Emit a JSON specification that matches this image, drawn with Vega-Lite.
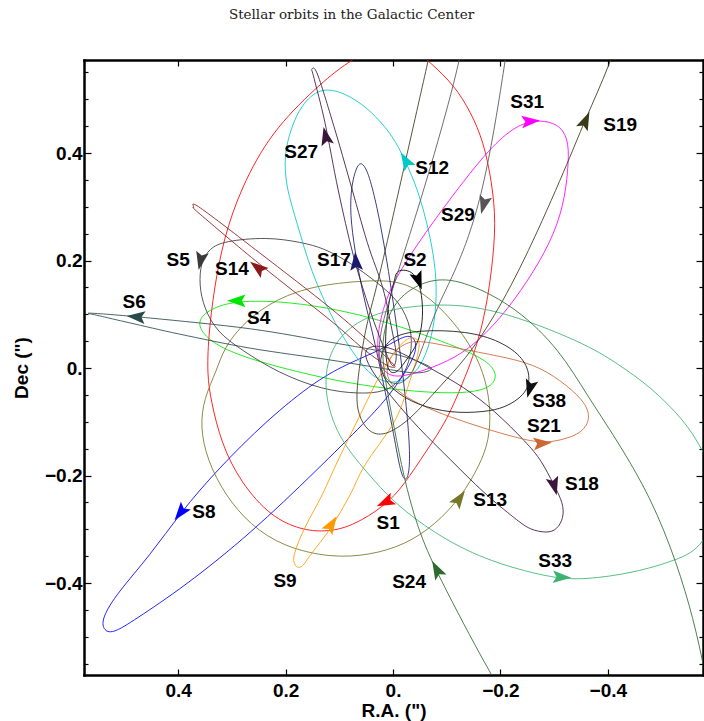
{
  "$schema": "https://vega.github.io/schema/vega-lite/v6.json",
  "width": 619,
  "height": 615,
  "autosize": {"type": "none"},
  "padding": {"left": 84, "top": 60, "right": 1, "bottom": 46},
  "background": "white",
  "title": {"text": "Stellar orbits in the Galactic Center", "font": "DejaVu Serif", "fontSize": 13.5, "fontWeight": "normal", "color": "#222222", "anchor": "middle", "frame": "group", "dx": -42, "offset": 27, "baseline": "alphabetic"},
  "config": {
    "view": {"stroke": null},
    "axis": {"domainColor": "black", "domainWidth": 2.5, "domainCap": "square", "tickColor": "black", "tickWidth": 1.2, "labelFont": "Liberation Sans", "labelFontWeight": "bold", "labelFontSize": 19, "labelColor": "black", "titleFont": "Liberation Sans", "titleFontWeight": "bold", "titleFontSize": 19, "titleColor": "black", "grid": false, "zindex": 1, "labelOverlap": false, "labelBound": false, "labelFlush": false}
  },
  "datasets": {
    "closed": [
      {"star":"S1","i":0,"ra":0.006,"dec":0.614},{"star":"S1","i":1,"ra":0.086,"dec":0.569},{"star":"S1","i":2,"ra":0.142,"dec":0.523},{"star":"S1","i":3,"ra":0.227,"dec":0.439},{"star":"S1","i":4,"ra":0.283,"dec":0.335},{"star":"S1","i":5,"ra":0.315,"dec":0.242},{"star":"S1","i":6,"ra":0.333,"dec":0.149},{"star":"S1","i":7,"ra":0.344,"dec":0.056},{"star":"S1","i":8,"ra":0.346,"dec":-0.013},{"star":"S1","i":9,"ra":0.339,"dec":-0.060},{"star":"S1","i":10,"ra":0.320,"dec":-0.140},{"star":"S1","i":11,"ra":0.283,"dec":-0.214},{"star":"S1","i":12,"ra":0.227,"dec":-0.277},{"star":"S1","i":13,"ra":0.171,"dec":-0.301},{"star":"S1","i":14,"ra":0.128,"dec":-0.305},{"star":"S1","i":15,"ra":0.078,"dec":-0.296},{"star":"S1","i":16,"ra":0.013,"dec":-0.255},{"star":"S1","i":17,"ra":-0.020,"dec":-0.218},{"star":"S1","i":18,"ra":-0.063,"dec":-0.153},{"star":"S1","i":19,"ra":-0.101,"dec":-0.097},{"star":"S1","i":20,"ra":-0.132,"dec":-0.022},{"star":"S1","i":21,"ra":-0.147,"dec":0.015},{"star":"S1","i":22,"ra":-0.169,"dec":0.086},{"star":"S1","i":23,"ra":-0.184,"dec":0.179},{"star":"S1","i":24,"ra":-0.192,"dec":0.272},{"star":"S1","i":25,"ra":-0.184,"dec":0.346},{"star":"S1","i":26,"ra":-0.169,"dec":0.420},{"star":"S1","i":27,"ra":-0.145,"dec":0.476},{"star":"S1","i":28,"ra":-0.114,"dec":0.526},{"star":"S1","i":29,"ra":-0.071,"dec":0.567},{"star":"S1","i":30,"ra":-0.035,"dec":0.597},
      {"star":"S2","i":0,"ra":-0.019,"dec":0.182},{"star":"S2","i":1,"ra":-0.035,"dec":0.177},{"star":"S2","i":2,"ra":-0.047,"dec":0.160},{"star":"S2","i":3,"ra":-0.054,"dec":0.126},{"star":"S2","i":4,"ra":-0.054,"dec":0.086},{"star":"S2","i":5,"ra":-0.045,"dec":0.047},{"star":"S2","i":6,"ra":-0.022,"dec":0.011},{"star":"S2","i":7,"ra":-0.006,"dec":-0.007},{"star":"S2","i":8,"ra":0.007,"dec":-0.004},{"star":"S2","i":9,"ra":0.013,"dec":0.024},{"star":"S2","i":10,"ra":0.013,"dec":0.071},{"star":"S2","i":11,"ra":0.007,"dec":0.123},{"star":"S2","i":12,"ra":-0.002,"dec":0.160},{"star":"S2","i":13,"ra":-0.007,"dec":0.177},
      {"star":"S4","i":0,"ra":0.281,"dec":0.126},{"star":"S4","i":1,"ra":0.192,"dec":0.123},{"star":"S4","i":2,"ra":0.099,"dec":0.108},{"star":"S4","i":3,"ra":0.024,"dec":0.089},{"star":"S4","i":4,"ra":-0.050,"dec":0.065},{"star":"S4","i":5,"ra":-0.125,"dec":0.037},{"star":"S4","i":6,"ra":-0.181,"dec":0.011},{"star":"S4","i":7,"ra":-0.196,"dec":-0.017},{"star":"S4","i":8,"ra":-0.177,"dec":-0.041},{"star":"S4","i":9,"ra":-0.115,"dec":-0.048},{"star":"S4","i":10,"ra":-0.032,"dec":-0.043},{"star":"S4","i":11,"ra":0.061,"dec":-0.032},{"star":"S4","i":12,"ra":0.155,"dec":-0.013},{"star":"S4","i":13,"ra":0.248,"dec":0.011},{"star":"S4","i":14,"ra":0.322,"dec":0.037},{"star":"S4","i":15,"ra":0.359,"dec":0.067},{"star":"S4","i":16,"ra":0.363,"dec":0.093},{"star":"S4","i":17,"ra":0.331,"dec":0.115},
      {"star":"S5","i":0,"ra":0.235,"dec":0.244},{"star":"S5","i":1,"ra":0.171,"dec":0.234},{"star":"S5","i":2,"ra":0.128,"dec":0.223},{"star":"S5","i":3,"ra":0.078,"dec":0.195},{"star":"S5","i":4,"ra":0.030,"dec":0.160},{"star":"S5","i":5,"ra":-0.013,"dec":0.123},{"star":"S5","i":6,"ra":-0.035,"dec":0.074},{"star":"S5","i":7,"ra":-0.035,"dec":0.024},{"star":"S5","i":8,"ra":-0.017,"dec":-0.022},{"star":"S5","i":9,"ra":0.015,"dec":-0.045},{"star":"S5","i":10,"ra":0.063,"dec":-0.048},{"star":"S5","i":11,"ra":0.130,"dec":-0.041},{"star":"S5","i":12,"ra":0.214,"dec":-0.009},{"star":"S5","i":13,"ra":0.281,"dec":0.033},{"star":"S5","i":14,"ra":0.328,"dec":0.067},{"star":"S5","i":15,"ra":0.352,"dec":0.112},{"star":"S5","i":16,"ra":0.361,"dec":0.154},{"star":"S5","i":17,"ra":0.358,"dec":0.197},{"star":"S5","i":18,"ra":0.341,"dec":0.223},{"star":"S5","i":19,"ra":0.315,"dec":0.236},
      {"star":"S6","i":0,"ra":0.562,"dec":0.102},{"star":"S6","i":1,"ra":0.452,"dec":0.093},{"star":"S6","i":2,"ra":0.266,"dec":0.073},{"star":"S6","i":3,"ra":0.117,"dec":0.048},{"star":"S6","i":4,"ra":0.006,"dec":0.028},{"star":"S6","i":5,"ra":-0.050,"dec":0.011},{"star":"S6","i":6,"ra":-0.071,"dec":-0.002},{"star":"S6","i":7,"ra":-0.041,"dec":-0.009},{"star":"S6","i":8,"ra":0.024,"dec":0.000},{"star":"S6","i":9,"ra":0.117,"dec":0.015},{"star":"S6","i":10,"ra":0.266,"dec":0.037},{"star":"S6","i":11,"ra":0.397,"dec":0.063},{"star":"S6","i":12,"ra":0.490,"dec":0.084},{"star":"S6","i":13,"ra":0.546,"dec":0.097},
      {"star":"S8","i":0,"ra":-0.037,"dec":0.063},{"star":"S8","i":1,"ra":-0.013,"dec":0.056},{"star":"S8","i":2,"ra":0.024,"dec":0.033},{"star":"S8","i":3,"ra":0.078,"dec":0.011},{"star":"S8","i":4,"ra":0.142,"dec":-0.022},{"star":"S8","i":5,"ra":0.235,"dec":-0.097},{"star":"S8","i":6,"ra":0.328,"dec":-0.190},{"star":"S8","i":7,"ra":0.395,"dec":-0.268},{"star":"S8","i":8,"ra":0.452,"dec":-0.348},{"star":"S8","i":9,"ra":0.514,"dec":-0.419},{"star":"S8","i":10,"ra":0.542,"dec":-0.465},{"star":"S8","i":11,"ra":0.540,"dec":-0.487},{"star":"S8","i":12,"ra":0.523,"dec":-0.495},{"star":"S8","i":13,"ra":0.482,"dec":-0.469},{"star":"S8","i":14,"ra":0.389,"dec":-0.407},{"star":"S8","i":15,"ra":0.264,"dec":-0.307},{"star":"S8","i":16,"ra":0.142,"dec":-0.190},{"star":"S8","i":17,"ra":0.048,"dec":-0.097},{"star":"S8","i":18,"ra":0.006,"dec":-0.050},{"star":"S8","i":19,"ra":-0.026,"dec":-0.004},{"star":"S8","i":20,"ra":-0.047,"dec":0.037},
      {"star":"S9","i":0,"ra":0.181,"dec":-0.368},{"star":"S9","i":1,"ra":0.184,"dec":-0.348},{"star":"S9","i":2,"ra":0.166,"dec":-0.301},{"star":"S9","i":3,"ra":0.132,"dec":-0.236},{"star":"S9","i":4,"ra":0.102,"dec":-0.171},{"star":"S9","i":5,"ra":0.061,"dec":-0.087},{"star":"S9","i":6,"ra":0.024,"dec":-0.013},{"star":"S9","i":7,"ra":-0.009,"dec":0.037},{"star":"S9","i":8,"ra":-0.032,"dec":0.056},{"star":"S9","i":9,"ra":-0.047,"dec":0.050},{"star":"S9","i":10,"ra":-0.047,"dec":0.030},{"star":"S9","i":11,"ra":-0.032,"dec":-0.022},{"star":"S9","i":12,"ra":-0.004,"dec":-0.097},{"star":"S9","i":13,"ra":0.052,"dec":-0.180},{"star":"S9","i":14,"ra":0.080,"dec":-0.236},{"star":"S9","i":15,"ra":0.115,"dec":-0.296},{"star":"S9","i":16,"ra":0.151,"dec":-0.344},{"star":"S9","i":17,"ra":0.169,"dec":-0.368},
      {"star":"S12","i":0,"ra":0.136,"dec":0.523},{"star":"S12","i":1,"ra":0.171,"dec":0.489},{"star":"S12","i":2,"ra":0.190,"dec":0.446},{"star":"S12","i":3,"ra":0.203,"dec":0.396},{"star":"S12","i":4,"ra":0.199,"dec":0.335},{"star":"S12","i":5,"ra":0.179,"dec":0.272},{"star":"S12","i":6,"ra":0.153,"dec":0.179},{"star":"S12","i":7,"ra":0.110,"dec":0.086},{"star":"S12","i":8,"ra":0.080,"dec":0.037},{"star":"S12","i":9,"ra":0.058,"dec":0.006},{"star":"S12","i":10,"ra":0.034,"dec":-0.019},{"star":"S12","i":11,"ra":0.006,"dec":-0.028},{"star":"S12","i":12,"ra":-0.022,"dec":-0.024},{"star":"S12","i":13,"ra":-0.047,"dec":-0.004},{"star":"S12","i":14,"ra":-0.065,"dec":0.033},{"star":"S12","i":15,"ra":-0.078,"dec":0.086},{"star":"S12","i":16,"ra":-0.082,"dec":0.149},{"star":"S12","i":17,"ra":-0.076,"dec":0.210},{"star":"S12","i":18,"ra":-0.063,"dec":0.272},{"star":"S12","i":19,"ra":-0.045,"dec":0.335},{"star":"S12","i":20,"ra":-0.024,"dec":0.383},{"star":"S12","i":21,"ra":-0.006,"dec":0.420},{"star":"S12","i":22,"ra":0.017,"dec":0.452},{"star":"S12","i":23,"ra":0.048,"dec":0.484},{"star":"S12","i":24,"ra":0.089,"dec":0.512},
      {"star":"S13","i":0,"ra":0.328,"dec":-0.004},{"star":"S13","i":1,"ra":0.315,"dec":0.037},{"star":"S13","i":2,"ra":0.277,"dec":0.086},{"star":"S13","i":3,"ra":0.216,"dec":0.130},{"star":"S13","i":4,"ra":0.142,"dec":0.154},{"star":"S13","i":5,"ra":0.061,"dec":0.162},{"star":"S13","i":6,"ra":-0.007,"dec":0.164},{"star":"S13","i":7,"ra":-0.058,"dec":0.140},{"star":"S13","i":8,"ra":-0.108,"dec":0.093},{"star":"S13","i":9,"ra":-0.151,"dec":0.033},{"star":"S13","i":10,"ra":-0.173,"dec":-0.022},{"star":"S13","i":11,"ra":-0.182,"dec":-0.078},{"star":"S13","i":12,"ra":-0.179,"dec":-0.134},{"star":"S13","i":13,"ra":-0.162,"dec":-0.180},{"star":"S13","i":14,"ra":-0.127,"dec":-0.240},{"star":"S13","i":15,"ra":-0.078,"dec":-0.292},{"star":"S13","i":16,"ra":-0.022,"dec":-0.329},{"star":"S13","i":17,"ra":0.043,"dec":-0.348},{"star":"S13","i":18,"ra":0.115,"dec":-0.353},{"star":"S13","i":19,"ra":0.203,"dec":-0.333},{"star":"S13","i":20,"ra":0.266,"dec":-0.292},{"star":"S13","i":21,"ra":0.313,"dec":-0.236},{"star":"S13","i":22,"ra":0.346,"dec":-0.171},{"star":"S13","i":23,"ra":0.359,"dec":-0.110},{"star":"S13","i":24,"ra":0.352,"dec":-0.056},
      {"star":"S14","i":0,"ra":0.371,"dec":0.299},{"star":"S14","i":1,"ra":0.359,"dec":0.298},{"star":"S14","i":2,"ra":0.248,"dec":0.214},{"star":"S14","i":3,"ra":0.117,"dec":0.112},{"star":"S14","i":4,"ra":0.043,"dec":0.048},{"star":"S14","i":5,"ra":0.009,"dec":0.017},{"star":"S14","i":6,"ra":-0.004,"dec":0.002},{"star":"S14","i":7,"ra":0.013,"dec":0.006},{"star":"S14","i":8,"ra":0.052,"dec":0.033},{"star":"S14","i":9,"ra":0.117,"dec":0.089},{"star":"S14","i":10,"ra":0.248,"dec":0.193},{"star":"S14","i":11,"ra":0.359,"dec":0.286},
      {"star":"S17","i":0,"ra":0.065,"dec":0.385},{"star":"S17","i":1,"ra":0.052,"dec":0.378},{"star":"S17","i":2,"ra":0.039,"dec":0.340},{"star":"S17","i":3,"ra":0.024,"dec":0.272},{"star":"S17","i":4,"ra":0.011,"dec":0.197},{"star":"S17","i":5,"ra":0.000,"dec":0.126},{"star":"S17","i":6,"ra":-0.013,"dec":0.033},{"star":"S17","i":7,"ra":-0.024,"dec":-0.060},{"star":"S17","i":8,"ra":-0.032,"dec":-0.153},{"star":"S17","i":9,"ra":-0.030,"dec":-0.199},{"star":"S17","i":10,"ra":-0.022,"dec":-0.212},{"star":"S17","i":11,"ra":-0.013,"dec":-0.190},{"star":"S17","i":12,"ra":0.000,"dec":-0.115},{"star":"S17","i":13,"ra":0.019,"dec":-0.022},{"star":"S17","i":14,"ra":0.039,"dec":0.071},{"star":"S17","i":15,"ra":0.058,"dec":0.145},{"star":"S17","i":16,"ra":0.071,"dec":0.219},{"star":"S17","i":17,"ra":0.080,"dec":0.285},{"star":"S17","i":18,"ra":0.078,"dec":0.340},
      {"star":"S18","i":0,"ra":0.048,"dec":0.041},{"star":"S18","i":1,"ra":0.015,"dec":0.041},{"star":"S18","i":2,"ra":-0.013,"dec":0.030},{"star":"S18","i":3,"ra":-0.069,"dec":0.000},{"star":"S18","i":4,"ra":-0.132,"dec":-0.035},{"star":"S18","i":5,"ra":-0.188,"dec":-0.078},{"star":"S18","i":6,"ra":-0.250,"dec":-0.140},{"star":"S18","i":7,"ra":-0.276,"dec":-0.171},{"star":"S18","i":8,"ra":-0.300,"dec":-0.218},{"star":"S18","i":9,"ra":-0.317,"dec":-0.251},{"star":"S18","i":10,"ra":-0.318,"dec":-0.279},{"star":"S18","i":11,"ra":-0.305,"dec":-0.301},{"star":"S18","i":12,"ra":-0.287,"dec":-0.307},{"star":"S18","i":13,"ra":-0.255,"dec":-0.301},{"star":"S18","i":14,"ra":-0.231,"dec":-0.283},{"star":"S18","i":15,"ra":-0.169,"dec":-0.233},{"star":"S18","i":16,"ra":-0.108,"dec":-0.171},{"star":"S18","i":17,"ra":-0.045,"dec":-0.110},{"star":"S18","i":18,"ra":0.006,"dec":-0.050},{"star":"S18","i":19,"ra":0.039,"dec":-0.007},{"star":"S18","i":20,"ra":0.054,"dec":0.024},
      {"star":"S21","i":0,"ra":-0.022,"dec":0.047},{"star":"S21","i":1,"ra":-0.050,"dec":0.052},{"star":"S21","i":2,"ra":-0.119,"dec":0.037},{"star":"S21","i":3,"ra":-0.199,"dec":0.022},{"star":"S21","i":4,"ra":-0.263,"dec":0.007},{"star":"S21","i":5,"ra":-0.311,"dec":-0.022},{"star":"S21","i":6,"ra":-0.356,"dec":-0.060},{"star":"S21","i":7,"ra":-0.369,"dec":-0.093},{"star":"S21","i":8,"ra":-0.352,"dec":-0.121},{"star":"S21","i":9,"ra":-0.315,"dec":-0.134},{"star":"S21","i":10,"ra":-0.277,"dec":-0.140},{"star":"S21","i":11,"ra":-0.231,"dec":-0.130},{"star":"S21","i":12,"ra":-0.169,"dec":-0.112},{"star":"S21","i":13,"ra":-0.106,"dec":-0.091},{"star":"S21","i":14,"ra":-0.050,"dec":-0.069},{"star":"S21","i":15,"ra":-0.004,"dec":-0.041},{"star":"S21","i":16,"ra":0.015,"dec":-0.013},{"star":"S21","i":17,"ra":0.006,"dec":0.024},
      {"star":"S27","i":0,"ra":0.151,"dec":0.556},{"star":"S27","i":1,"ra":0.140,"dec":0.545},{"star":"S27","i":2,"ra":0.108,"dec":0.443},{"star":"S27","i":3,"ra":0.080,"dec":0.346},{"star":"S27","i":4,"ra":0.048,"dec":0.234},{"star":"S27","i":5,"ra":0.019,"dec":0.149},{"star":"S27","i":6,"ra":0.002,"dec":0.071},{"star":"S27","i":7,"ra":-0.006,"dec":0.024},{"star":"S27","i":8,"ra":0.000,"dec":0.004},{"star":"S27","i":9,"ra":0.015,"dec":0.033},{"star":"S27","i":10,"ra":0.043,"dec":0.108},{"star":"S27","i":11,"ra":0.074,"dec":0.210},{"star":"S27","i":12,"ra":0.102,"dec":0.331},{"star":"S27","i":13,"ra":0.127,"dec":0.458},{"star":"S27","i":14,"ra":0.147,"dec":0.539},
      {"star":"S31","i":0,"ra":-0.250,"dec":0.458},{"star":"S31","i":1,"ra":-0.283,"dec":0.461},{"star":"S31","i":2,"ra":-0.313,"dec":0.450},{"star":"S31","i":3,"ra":-0.328,"dec":0.420},{"star":"S31","i":4,"ra":-0.326,"dec":0.368},{"star":"S31","i":5,"ra":-0.318,"dec":0.303},{"star":"S31","i":6,"ra":-0.294,"dec":0.234},{"star":"S31","i":7,"ra":-0.250,"dec":0.160},{"star":"S31","i":8,"ra":-0.201,"dec":0.093},{"star":"S31","i":9,"ra":-0.145,"dec":0.037},{"star":"S31","i":10,"ra":-0.095,"dec":0.009},{"star":"S31","i":11,"ra":-0.050,"dec":-0.007},{"star":"S31","i":12,"ra":-0.013,"dec":-0.017},{"star":"S31","i":13,"ra":0.013,"dec":-0.013},{"star":"S31","i":14,"ra":0.028,"dec":0.015},{"star":"S31","i":15,"ra":0.030,"dec":0.061},{"star":"S31","i":16,"ra":0.015,"dec":0.126},{"star":"S31","i":17,"ra":-0.013,"dec":0.182},{"star":"S31","i":18,"ra":-0.074,"dec":0.272},{"star":"S31","i":19,"ra":-0.168,"dec":0.396},{"star":"S31","i":20,"ra":-0.218,"dec":0.443},
      {"star":"S33","i":0,"ra":-0.579,"dec":-0.333},{"star":"S33","i":1,"ra":-0.529,"dec":-0.357},{"star":"S33","i":2,"ra":-0.449,"dec":-0.381},{"star":"S33","i":3,"ra":-0.356,"dec":-0.394},{"star":"S33","i":4,"ra":-0.294,"dec":-0.391},{"star":"S33","i":5,"ra":-0.169,"dec":-0.357},{"star":"S33","i":6,"ra":-0.076,"dec":-0.307},{"star":"S33","i":7,"ra":-0.002,"dec":-0.251},{"star":"S33","i":8,"ra":0.048,"dec":-0.195},{"star":"S33","i":9,"ra":0.104,"dec":-0.128},{"star":"S33","i":10,"ra":0.128,"dec":-0.047},{"star":"S33","i":11,"ra":0.123,"dec":0.015},{"star":"S33","i":12,"ra":0.097,"dec":0.065},{"star":"S33","i":13,"ra":0.037,"dec":0.104},{"star":"S33","i":14,"ra":-0.071,"dec":0.121},{"star":"S33","i":15,"ra":-0.188,"dec":0.113},{"star":"S33","i":16,"ra":-0.356,"dec":0.047},{"star":"S33","i":17,"ra":-0.417,"dec":0.009},{"star":"S33","i":18,"ra":-0.480,"dec":-0.035},{"star":"S33","i":19,"ra":-0.542,"dec":-0.097},{"star":"S33","i":20,"ra":-0.574,"dec":-0.147},{"star":"S33","i":21,"ra":-0.618,"dec":-0.236},
      {"star":"S38","i":0,"ra":0.024,"dec":0.024},{"star":"S38","i":1,"ra":0.006,"dec":0.058},{"star":"S38","i":2,"ra":-0.045,"dec":0.071},{"star":"S38","i":3,"ra":-0.138,"dec":0.069},{"star":"S38","i":4,"ra":-0.201,"dec":0.050},{"star":"S38","i":5,"ra":-0.244,"dec":0.019},{"star":"S38","i":6,"ra":-0.257,"dec":-0.019},{"star":"S38","i":7,"ra":-0.246,"dec":-0.050},{"star":"S38","i":8,"ra":-0.209,"dec":-0.074},{"star":"S38","i":9,"ra":-0.169,"dec":-0.082},{"star":"S38","i":10,"ra":-0.108,"dec":-0.084},{"star":"S38","i":11,"ra":-0.045,"dec":-0.069},{"star":"S38","i":12,"ra":0.002,"dec":-0.041},{"star":"S38","i":13,"ra":0.024,"dec":-0.007}
    ],
    "open": [
      {"star":"S19","i":0,"ra":-0.426,"dec":0.638},{"star":"S19","i":1,"ra":-0.406,"dec":0.569},{"star":"S19","i":2,"ra":-0.356,"dec":0.458},{"star":"S19","i":3,"ra":-0.324,"dec":0.378},{"star":"S19","i":4,"ra":-0.250,"dec":0.210},{"star":"S19","i":5,"ra":-0.188,"dec":0.093},{"star":"S19","i":6,"ra":-0.134,"dec":0.015},{"star":"S19","i":7,"ra":-0.089,"dec":-0.032},{"star":"S19","i":8,"ra":-0.032,"dec":-0.097},{"star":"S19","i":9,"ra":0.017,"dec":-0.128},{"star":"S19","i":10,"ra":0.047,"dec":-0.119},{"star":"S19","i":11,"ra":0.065,"dec":-0.087},{"star":"S19","i":12,"ra":0.069,"dec":-0.050},{"star":"S19","i":13,"ra":0.061,"dec":0.015},{"star":"S19","i":14,"ra":0.048,"dec":0.089},{"star":"S19","i":15,"ra":0.030,"dec":0.149},{"star":"S19","i":16,"ra":-0.013,"dec":0.340},{"star":"S19","i":17,"ra":-0.065,"dec":0.569},{"star":"S19","i":18,"ra":-0.080,"dec":0.638},
      {"star":"S29","i":0,"ra":-0.134,"dec":0.638},{"star":"S29","i":1,"ra":-0.125,"dec":0.569},{"star":"S29","i":2,"ra":-0.069,"dec":0.368},{"star":"S29","i":3,"ra":-0.022,"dec":0.219},{"star":"S29","i":4,"ra":0.000,"dec":0.149},{"star":"S29","i":5,"ra":0.024,"dec":0.071},{"star":"S29","i":6,"ra":0.028,"dec":0.015},{"star":"S29","i":7,"ra":0.015,"dec":-0.022},{"star":"S29","i":8,"ra":-0.007,"dec":-0.033},{"star":"S29","i":9,"ra":-0.032,"dec":-0.019},{"star":"S29","i":10,"ra":-0.050,"dec":0.024},{"star":"S29","i":11,"ra":-0.073,"dec":0.089},{"star":"S29","i":12,"ra":-0.093,"dec":0.136},{"star":"S29","i":13,"ra":-0.119,"dec":0.186},{"star":"S29","i":14,"ra":-0.168,"dec":0.316},{"star":"S29","i":15,"ra":-0.209,"dec":0.569},{"star":"S29","i":16,"ra":-0.218,"dec":0.638},
      {"star":"S24","i":0,"ra":-0.218,"dec":-0.627},{"star":"S24","i":1,"ra":-0.182,"dec":-0.571},{"star":"S24","i":2,"ra":-0.080,"dec":-0.379},{"star":"S24","i":3,"ra":-0.045,"dec":-0.296},{"star":"S24","i":4,"ra":-0.020,"dec":-0.203},{"star":"S24","i":5,"ra":-0.002,"dec":-0.110},{"star":"S24","i":6,"ra":0.013,"dec":-0.032},{"star":"S24","i":7,"ra":0.022,"dec":0.033},{"star":"S24","i":8,"ra":0.013,"dec":0.093},{"star":"S24","i":9,"ra":-0.017,"dec":0.140},{"star":"S24","i":10,"ra":-0.076,"dec":0.169},{"star":"S24","i":11,"ra":-0.138,"dec":0.160},{"star":"S24","i":12,"ra":-0.231,"dec":0.112},{"star":"S24","i":13,"ra":-0.311,"dec":0.033},{"star":"S24","i":14,"ra":-0.361,"dec":-0.050},{"star":"S24","i":15,"ra":-0.417,"dec":-0.134},{"star":"S24","i":16,"ra":-0.480,"dec":-0.240},{"star":"S24","i":17,"ra":-0.529,"dec":-0.363},{"star":"S24","i":18,"ra":-0.560,"dec":-0.469},{"star":"S24","i":19,"ra":-0.579,"dec":-0.556},{"star":"S24","i":20,"ra":-0.594,"dec":-0.636}
    ],
    "arrows": [
      {"star":"S1","ra":0.013,"dec":-0.249,"angle":245},
      {"star":"S2","ra":-0.047,"dec":0.164,"angle":160},
      {"star":"S4","ra":0.290,"dec":0.125,"angle":270},
      {"star":"S5","ra":0.358,"dec":0.201,"angle":192},
      {"star":"S6","ra":0.477,"dec":0.095,"angle":275},
      {"star":"S8","ra":0.395,"dec":-0.268,"angle":218},
      {"star":"S9","ra":0.115,"dec":-0.292,"angle":32},
      {"star":"S12","ra":-0.024,"dec":0.385,"angle":330},
      {"star":"S13","ra":-0.123,"dec":-0.244,"angle":35},
      {"star":"S14","ra":0.251,"dec":0.186,"angle":308},
      {"star":"S17","ra":0.069,"dec":0.197,"angle":355},
      {"star":"S18","ra":-0.300,"dec":-0.218,"angle":165},
      {"star":"S19","ra":-0.358,"dec":0.459,"angle":24},
      {"star":"S21","ra":-0.277,"dec":-0.140,"angle":85},
      {"star":"S24","ra":-0.082,"dec":-0.376,"angle":332},
      {"star":"S27","ra":0.125,"dec":0.430,"angle":347},
      {"star":"S29","ra":-0.169,"dec":0.305,"angle":195},
      {"star":"S31","ra":-0.255,"dec":0.459,"angle":85},
      {"star":"S33","ra":-0.313,"dec":-0.389,"angle":93},
      {"star":"S38","ra":-0.255,"dec":-0.037,"angle":195}
    ],
    "labels": [
      {"star":"S31","ra":-0.250,"dec":0.495},
      {"star":"S19","ra":-0.423,"dec":0.452},
      {"star":"S12","ra":-0.073,"dec":0.372},
      {"star":"S29","ra":-0.121,"dec":0.285},
      {"star":"S2","ra":-0.041,"dec":0.201},
      {"star":"S27","ra":0.171,"dec":0.402},
      {"star":"S17","ra":0.110,"dec":0.201},
      {"star":"S5","ra":0.400,"dec":0.201},
      {"star":"S14","ra":0.300,"dec":0.184},
      {"star":"S6","ra":0.482,"dec":0.123},
      {"star":"S4","ra":0.250,"dec":0.093},
      {"star":"S8","ra":0.352,"dec":-0.268},
      {"star":"S1","ra":0.009,"dec":-0.288},
      {"star":"S9","ra":0.201,"dec":-0.396},
      {"star":"S13","ra":-0.181,"dec":-0.246},
      {"star":"S18","ra":-0.352,"dec":-0.216},
      {"star":"S38","ra":-0.291,"dec":-0.061},
      {"star":"S21","ra":-0.281,"dec":-0.108},
      {"star":"S33","ra":-0.302,"dec":-0.359},
      {"star":"S24","ra":-0.030,"dec":-0.398}
    ]
  },
  "resolve": {"axis": {"x": "independent", "y": "independent"}},
  "layer": [
    {
      "data": {"name": "closed"},
      "transform": [{"filter": {"not": {"field": "star", "oneOf": ["S2", "S6", "S9", "S14", "S27"]}}}],
      "mark": {"type": "line", "interpolate": "basis-closed", "clip": true, "strokeWidth": 1, "opacity": 0.85},
      "encoding": {
        "x": {"field": "ra", "type": "quantitative", "scale": {"domain": [0.5754, -0.5773], "nice": false, "zero": false},
          "axis": {"orient": "bottom", "title": "R.A. (\")", "values": [0.4, 0.2, 0, -0.2, -0.4], "tickSize": -6, "labelPadding": 12, "titlePadding": 1,
            "labelExpr": "abs(datum.value) < 0.001 ? '0.' : replace(format(datum.value, '.1f'), '-', '−')"}},
        "y": {"field": "dec", "type": "quantitative", "scale": {"domain": [-0.571, 0.573], "nice": false, "zero": false},
          "axis": {"orient": "left", "title": "Dec (\")", "values": [-0.55,-0.5,-0.45,-0.4,-0.35,-0.3,-0.25,-0.2,-0.15,-0.1,-0.05,0,0.05,0.1,0.15,0.2,0.25,0.3,0.35,0.4,0.45,0.5,0.55],
            "tickSize": {"condition": {"test": "abs(datum.value*5 - round(datum.value*5)) < 0.001", "value": -7}, "value": -4},
            "labelPadding": 9, "titlePadding": 13,
            "labelExpr": "abs(datum.value*5 - round(datum.value*5)) > 0.001 ? '' : (abs(datum.value) < 0.001 ? '0.' : replace(format(datum.value, '.1f'), '-', '−'))"}},
        "color": {"field": "star", "type": "nominal", "legend": null,
          "scale": {"domain": ["S1","S2","S4","S5","S6","S8","S9","S12","S13","S14","S17","S18","S19","S21","S24","S27","S29","S31","S33","S38"],
                    "range": ["#ff0000","#000000","#00e600","#3a3a3a","#2a4a4a","#0000ff","#ff9900","#00c8c8","#77772a","#8b1a1a","#1a1a6e","#3a163a","#3a3a18","#cc6633","#2e6b2e","#3a163a","#555555","#ff00ff","#3cb371","#111111"]}},
        "detail": {"field": "star"},
        "order": {"field": "i", "type": "quantitative"}
      }
    },
    {
      "data": {"name": "closed"},
      "transform": [{"filter": {"field": "star", "oneOf": ["S2", "S6", "S9", "S14", "S27"]}}],
      "mark": {"type": "line", "interpolate": "cardinal-closed", "clip": true, "strokeWidth": 1, "opacity": 0.85},
      "encoding": {
        "x": {"field": "ra", "type": "quantitative", "axis": null},
        "y": {"field": "dec", "type": "quantitative", "axis": null},
        "color": {"field": "star", "type": "nominal", "legend": null},
        "detail": {"field": "star"},
        "order": {"field": "i", "type": "quantitative"}
      }
    },
    {
      "data": {"name": "open"},
      "mark": {"type": "line", "interpolate": "basis", "clip": true, "strokeWidth": 1, "opacity": 0.85},
      "encoding": {
        "x": {"field": "ra", "type": "quantitative", "scale": {"domain": [0.5754, -0.5773], "nice": false, "zero": false},
          "axis": {"orient": "top", "title": null, "labels": false, "values": [0.4, 0.2, 0, -0.2, -0.4], "tickSize": -6}},
        "y": {"field": "dec", "type": "quantitative", "scale": {"domain": [-0.571, 0.573], "nice": false, "zero": false},
          "axis": {"orient": "right", "title": null, "labels": false, "values": [-0.55,-0.5,-0.45,-0.4,-0.35,-0.3,-0.25,-0.2,-0.15,-0.1,-0.05,0,0.05,0.1,0.15,0.2,0.25,0.3,0.35,0.4,0.45,0.5,0.55],
            "tickSize": {"condition": {"test": "abs(datum.value*5 - round(datum.value*5)) < 0.001", "value": -7}, "value": -4}}},
        "color": {"field": "star", "type": "nominal", "legend": null},
        "detail": {"field": "star"},
        "order": {"field": "i", "type": "quantitative"}
      }
    },
    {
      "data": {"name": "arrows"},
      "mark": {"type": "point", "shape": "M0,-1L0.62,0.8L0,0.45L-0.62,0.8Z", "filled": true, "size": 420, "opacity": 1, "strokeWidth": 0},
      "encoding": {
        "x": {"field": "ra", "type": "quantitative", "axis": null},
        "y": {"field": "dec", "type": "quantitative", "axis": null},
        "angle": {"field": "angle", "type": "quantitative", "scale": null},
        "color": {"field": "star", "type": "nominal", "legend": null}
      }
    },
    {
      "data": {"name": "labels"},
      "mark": {"type": "text", "font": "Liberation Sans", "fontWeight": "bold", "fontSize": 19, "align": "center", "baseline": "middle", "color": "black"},
      "encoding": {
        "x": {"field": "ra", "type": "quantitative", "axis": null},
        "y": {"field": "dec", "type": "quantitative", "axis": null},
        "text": {"field": "star"}
      }
    }
  ]
}
